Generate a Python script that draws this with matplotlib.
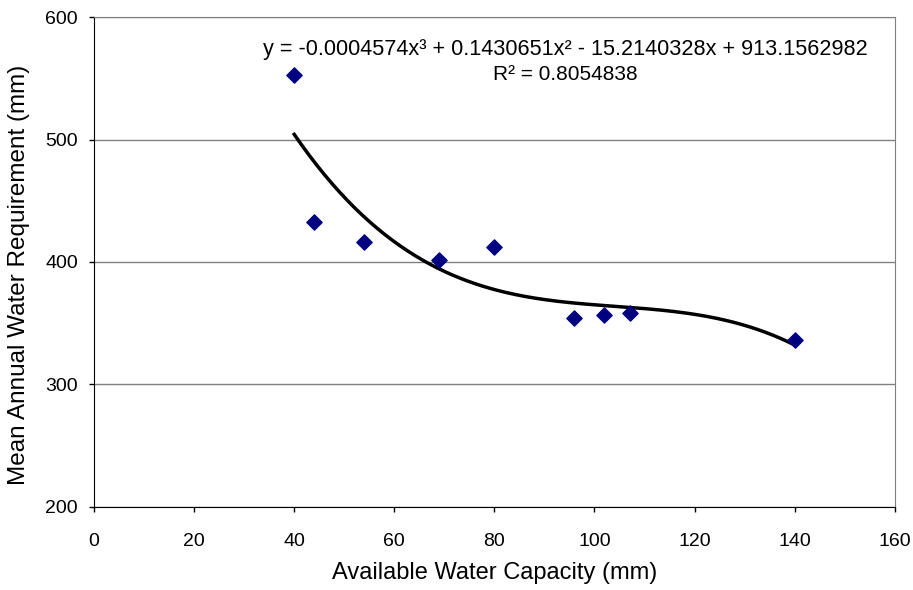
"""
Mean annual water requirement against available water capacity,
with the cubic trend line and its equation.
"""
import numpy as np
import matplotlib
matplotlib.use("Agg")
import matplotlib.pyplot as plt

# data
awc = [40, 44, 54, 69, 80, 96, 102, 107, 140]
water_req = [553, 433, 416, 402, 412, 354, 357, 358, 336]

# trend line coefficients as printed on the chart (highest power first)
trend_coef = [-0.0004574, 0.1430651, -15.2140328, 913.1562982]
r_squared = 0.8054838

x_ticks = [0, 20, 40, 60, 80, 100, 120, 140, 160]
y_ticks = [200, 300, 400, 500, 600]

plt.rcParams['font.family'] = ['Liberation Sans', 'DejaVu Sans']

fig = plt.figure(figsize=(9.13, 5.90), dpi=100)
ax = fig.add_axes([0.103, 0.141, 0.877, 0.830])

ax.scatter(awc, water_req, marker='D', s=60, color='#000080', zorder=3)

x_fit = np.linspace(min(awc), max(awc), 200)
ax.plot(x_fit, np.polyval(trend_coef, x_fit), color='black', linewidth=2.5, zorder=2)

ax.set_xlim(0, 160)
ax.set_ylim(200, 600)
ax.set_xticks(x_ticks)
ax.set_yticks(y_ticks)
ax.yaxis.grid(True, color='#808080', linewidth=1.0)
ax.set_axisbelow(True)

for side in ['top', 'right']:
    ax.spines[side].set_color('#808080')
for side in ['left', 'bottom']:
    ax.spines[side].set_color('black')
ax.tick_params(direction='out', length=3.5, width=1, labelsize=14, colors='black')
ax.tick_params(axis='x', pad=15)
ax.tick_params(axis='y', pad=8)

ax.set_xlabel('Available Water Capacity (mm)', fontsize=17)
ax.set_ylabel('Mean Annual Water Requirement (mm)', fontsize=17.5)
ax.xaxis.set_label_coords(0.5, -0.112)
ax.yaxis.set_label_coords(-0.080, 0.473)

eq = 'y = -0.0004574x³ + 0.1430651x² - 15.2140328x + 913.1562982'
ax.text(0.589, 0.933, eq, transform=ax.transAxes, ha='center', va='center', fontsize=15.6)
ax.text(0.589, 0.882, 'R² = %.7f' % r_squared, transform=ax.transAxes,
        ha='center', va='center', fontsize=15)

plt.savefig('out.png', dpi=100)
